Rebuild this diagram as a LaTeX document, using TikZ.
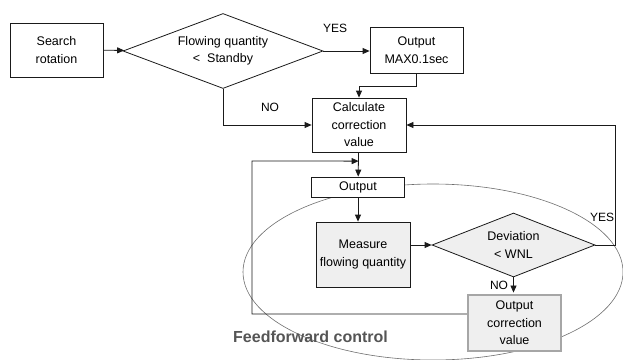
\documentclass[tikz,border=0pt]{standalone}
\usepackage{fontspec}
\setmainfont{Liberation Sans}
\usepackage{xcolor}
\definecolor{BoxLine} {HTML}{1A1A1A}
\definecolor{BoxFill} {HTML}{EFEFEF}
\definecolor{RimGray} {HTML}{A6A6A6}
\definecolor{LoopGray}{HTML}{6E6E6E}
\definecolor{NoteGray}{HTML}{555555}
\usetikzlibrary{arrows.meta,positioning,shapes.geometric,calc}

\begin{document}
\begin{tikzpicture}[x=1pt,y=-1pt,
  every node/.style={font=\fontsize{12.5}{17.5}\selectfont,align=center,inner sep=0pt},
  flowbox/.style={draw=BoxLine,fill=white,line width=0.8pt,minimum width=93pt},
  testbox/.style={diamond,draw=BoxLine,fill=white,line width=0.8pt,aspect=2.6},
  flow/.style={draw=BoxLine,line width=0.8pt,-{Triangle[length=7pt,width=6pt]}},
  tag/.style={font=\fontsize{12}{14}\selectfont}]
  \useasboundingbox (0,0) rectangle (623,359);
  % Feedforward loop
  \draw[LoopGray,line width=0.6pt] (433,272) ellipse [x radius=190,y radius=88];
  \node[font=\fontsize{16}{18}\selectfont\bfseries,text=NoteGray,anchor=west]
    (ffwd) at (233,337) {Feedforward control};
  % Top row
  \node[flowbox,minimum height=54pt] (search) at (56.5,50) {Search\\rotation};
  \node[testbox,minimum width=200pt,minimum height=75pt]
    (flowtest) at (223,51) {Flowing quantity\\<\ \ Standby};
  \node[flowbox,minimum height=46pt] (maxout) at (416.5,50) {Output\\MAX0.1sec};
  % Middle column
  \node[flowbox,minimum width=94pt,minimum height=54pt]
    (calc) at (359,125) {Calculate\\correction\\value};
  \node[flowbox,minimum height=20pt] (out) at (358,187) {Output};
  % Inside the loop
  \node[flowbox,fill=BoxFill,minimum width=94pt,minimum height=65pt]
    (measure) at (363,254.5) {Measure\\flowing quantity};
  \node[testbox,fill=BoxFill,minimum width=163pt,minimum height=64pt]
    (devtest) at (513.5,245) {Deviation\\< WNL};
  \node[flowbox,draw=RimGray,line width=2.5pt,fill=BoxFill,minimum height=56pt]
    (corrout) at (514.5,323) {Output\\correction\\value};
  % Connectors
  \draw[flow] (search) -- (flowtest);
  \draw[flow] (flowtest.east) -- (flowtest.east -| maxout.west);
  \draw[flow] (flowtest.south) |- (calc.west);
  \coordinate (maxbend) at ($(maxout.south)+(0,13)$);
  \draw[flow] (maxout.south) -- (maxbend) -| (calc.north);
  \draw[flow] (calc) -- (out);
  \draw[flow] (out.south) -- (out.south |- measure.north);
  \draw[flow] (measure.east |- devtest.west) -- (devtest.west);
  \coordinate (yesbend) at ($(devtest.east)+(20,0)$);
  \draw[flow] (devtest.east) -- (yesbend) |- (calc.east);
  \draw[flow,shorten >=1.2pt] (devtest.south) -- (devtest.south |- corrout.north);
  \coordinate (fbtip) at ($(calc.south)!0.36!(out.north)$);
  \coordinate (fbleft) at (252,161);
  \draw[flow] ([yshift=9pt]corrout.west) -| (fbleft) -- (fbtip);
  % Branch labels
  \node[tag] (yes1) at (335,28) {YES};
  \node[tag] (no1) at (270,107) {NO};
  \node[tag] (yes2) at (602,217) {YES};
  \node[tag] (no2) at (499,285) {NO};
\end{tikzpicture}
\end{document}
